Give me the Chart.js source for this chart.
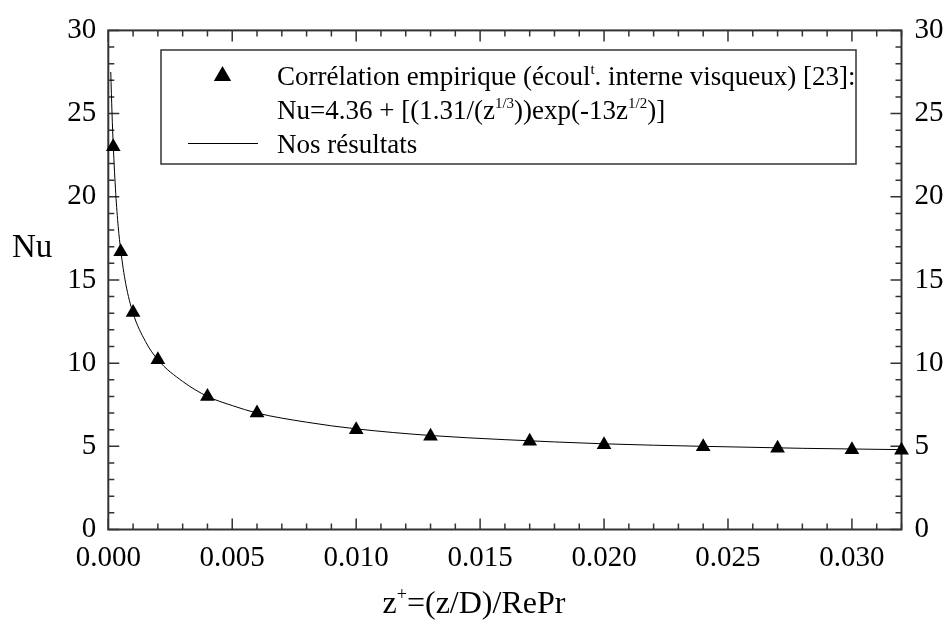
<!DOCTYPE html>
<html>
<head>
<meta charset="utf-8">
<script src="https://cdn.jsdelivr.net/npm/chart.js@4/dist/chart.umd.min.js"></script>
<style>
  html, body { margin: 0; padding: 0; background: #fff; }
  #wrap { width: 945px; height: 621px; }
</style>
</head>
<body>
<div id="wrap"><canvas id="nuChart" width="945" height="621"></canvas></div>
<script>
// Corrélation empirique (triangles)
const zCorr = [0.0002, 0.0005, 0.001, 0.002, 0.004, 0.006, 0.010, 0.013, 0.017, 0.020, 0.024, 0.027, 0.030, 0.032];
const nuCorr = [23.0, 16.7, 13.05, 10.2, 8.0, 7.0, 6.0, 5.6, 5.3, 5.1, 4.97, 4.88, 4.8, 4.76];

// Nos résultats (trait continu)
const zRes = [0.0001, 0.00015, 0.0002, 0.0003, 0.0004, 0.0005, 0.0007, 0.001, 0.0015, 0.002, 0.003, 0.004, 0.005, 0.006, 0.008, 0.010, 0.013, 0.016, 0.020, 0.024, 0.028, 0.032];
const nuRes = [27.5, 25.0, 23.1, 20.2, 18.2, 16.8, 14.8, 13.0, 11.3, 10.2, 8.9, 8.0, 7.45, 7.0, 6.45, 6.05, 5.65, 5.4, 5.15, 5.0, 4.88, 4.8];

// axes
const xMin = 0, xMax = 0.032;
const xTicks = [0, 0.005, 0.010, 0.015, 0.020, 0.025, 0.030];
const yMin = 0, yMax = 30;
const yTicks = [0, 5, 10, 15, 20, 25, 30];
const xMinor = 0.001, yMinor = 1;

const serif = '"Liberation Serif", "DejaVu Serif", serif';
const axisColor = '#333';

function toPoints(xs, ys) {
    return xs.map((v, i) => ({ x: v, y: ys[i] }));
}

// texte avec morceaux en exposant
function drawRich(ctx, parts, x, y, size, align) {
    const supSize = Math.round(size * 0.55);
    let total = 0;
    parts.forEach(p => {
        ctx.font = (p.sup ? supSize : size) + 'px ' + serif;
        p.w = ctx.measureText(p.t).width;
        total += p.w;
    });
    let cx = align === 'center' ? x - total / 2 : x;
    parts.forEach(p => {
        ctx.font = (p.sup ? supSize : size) + 'px ' + serif;
        ctx.fillText(p.t, cx, p.sup ? y - size * 0.42 : y);
        cx += p.w;
    });
}

function triangle(ctx, x, y, r) {
    const s = Math.sin(Math.PI * 2 / 3), c = Math.cos(Math.PI * 2 / 3);
    ctx.beginPath();
    ctx.moveTo(x, y - r);
    ctx.lineTo(x + r * s, y - r * c);
    ctx.lineTo(x - r * s, y - r * c);
    ctx.closePath();
    ctx.fill();
}

const frameTicks = {
    id: 'frameTicks',
    beforeDatasetsDraw(chart) {
        const { ctx, chartArea: a, scales: { x, y } } = chart;
        ctx.save();
        ctx.strokeStyle = axisColor;
        ctx.lineWidth = 1.5;
        ctx.beginPath();
        const isMajor = (v, list) => list.some(t => Math.abs(t - v) < 1e-9);
        const nx = Math.round((xMax - xMin) / xMinor);
        for (let i = 0; i <= nx; i++) {
            const v = xMin + i * xMinor;
            const px = x.getPixelForValue(v);
            const len = isMajor(v, xTicks) ? 11 : 6;
            ctx.moveTo(px, a.bottom); ctx.lineTo(px, a.bottom - len);
            ctx.moveTo(px, a.top); ctx.lineTo(px, a.top + len);
        }
        const ny = Math.round((yMax - yMin) / yMinor);
        for (let i = 0; i <= ny; i++) {
            const v = yMin + i * yMinor;
            const py = y.getPixelForValue(v);
            const len = isMajor(v, yTicks) ? 11 : 6;
            ctx.moveTo(a.left, py); ctx.lineTo(a.left + len, py);
            ctx.moveTo(a.right, py); ctx.lineTo(a.right - len, py);
        }
        ctx.stroke();
        ctx.lineWidth = 2;
        ctx.strokeRect(a.left, a.top, a.width, a.height);
        ctx.restore();
    },
    afterDraw(chart) {
        const { ctx } = chart;
        ctx.save();
        ctx.fillStyle = '#000';
        ctx.textBaseline = 'alphabetic';

        // titres des axes
        ctx.font = '33px ' + serif;
        ctx.textAlign = 'left';
        ctx.fillText('Nu', 12, 257);
        drawRich(ctx, [{ t: 'z' }, { t: '+', sup: true }, { t: '=(z/D)/RePr' }], 474, 613, 32, 'center');

        // légende
        const bx = 161, by = 50, bw = 695, bh = 114;
        ctx.strokeStyle = axisColor;
        ctx.lineWidth = 1.5;
        ctx.strokeRect(bx, by, bw, bh);
        triangle(ctx, 222.5, 76, 10);
        drawRich(ctx, [{ t: 'Corrélation empirique (écoul' }, { t: 't', sup: true }, { t: '. interne visqueux) [23]:' }], 277, 85, 27);
        drawRich(ctx, [{ t: 'Nu=4.36 + [(1.31/(z' }, { t: '1/3', sup: true }, { t: '))exp(-13z' }, { t: '1/2', sup: true }, { t: ')]' }], 277, 119, 27);
        ctx.strokeStyle = '#000';
        ctx.lineWidth = 1;
        ctx.beginPath();
        ctx.moveTo(188, 143.5); ctx.lineTo(258, 143.5);
        ctx.stroke();
        drawRich(ctx, [{ t: 'Nos résultats' }], 277, 153, 27);
        ctx.restore();
    }
};

const ctx = document.getElementById('nuChart').getContext('2d');

new Chart(ctx, {
    type: 'scatter',
    data: {
        datasets: [
            {
                label: 'Nos résultats',
                data: toPoints(zRes, nuRes),
                showLine: true,
                borderColor: '#000',
                borderWidth: 1,
                pointRadius: 0,
                cubicInterpolationMode: 'monotone',
                clip: false
            },
            {
                label: 'Corrélation empirique',
                data: toPoints(zCorr, nuCorr),
                pointStyle: 'triangle',
                pointRadius: 8.5,
                backgroundColor: '#000',
                borderColor: '#000',
                borderWidth: 0,
                clip: false
            }
        ]
    },
    options: {
        responsive: false,
        animation: false,
        layout: { padding: { top: 23, left: 0, right: 0, bottom: 0 } },
        plugins: {
            legend: { display: false },
            tooltip: { enabled: false }
        },
        scales: {
            x: {
                type: 'linear',
                min: xMin,
                max: xMax,
                grid: { display: false, drawTicks: false },
                border: { display: false },
                afterBuildTicks(scale) { scale.ticks = xTicks.map(v => ({ value: v })); },
                afterFit(scale) { scale.height = 91.5; },
                ticks: {
                    autoSkip: false,
                    maxRotation: 0,
                    padding: 11,
                    color: '#000',
                    font: { family: serif, size: 29 },
                    callback: v => v.toFixed(3)
                }
            },
            y: {
                position: 'left',
                min: yMin,
                max: yMax,
                grid: { display: false, drawTicks: false },
                border: { display: false },
                afterBuildTicks(scale) { scale.ticks = yTicks.map(v => ({ value: v })); },
                afterFit(scale) { scale.width = 108.3; },
                ticks: {
                    padding: 12,
                    color: '#000',
                    font: { family: serif, size: 29 }
                }
            },
            y2: {
                position: 'right',
                min: yMin,
                max: yMax,
                grid: { display: false, drawTicks: false },
                border: { display: false },
                afterBuildTicks(scale) { scale.ticks = yTicks.map(v => ({ value: v })); },
                afterFit(scale) { scale.width = 43.5; },
                ticks: {
                    padding: 13,
                    color: '#000',
                    font: { family: serif, size: 29 }
                }
            }
        }
    },
    plugins: [frameTicks]
});
</script>
</body>
</html>
